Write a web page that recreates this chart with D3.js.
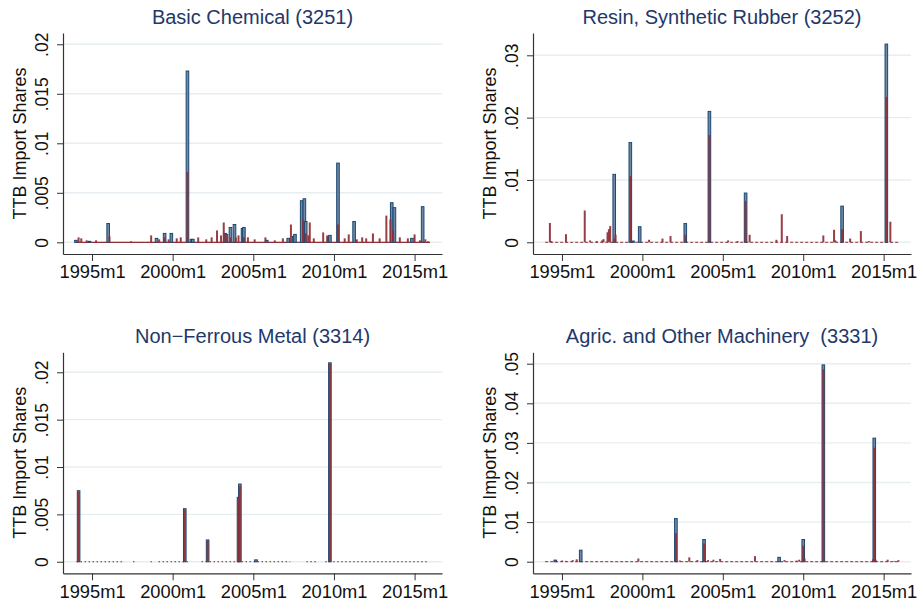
<!DOCTYPE html>
<html lang="en">
<head>
    <meta charset="utf-8">
    <title>TTB Import Shares</title>
    <script type="text/javascript" src="https://cdnjs.cloudflare.com/ajax/libs/d3/7.8.5/d3.min.js"></script>
	<style>
	body { margin: 0; background: #fff; }
	svg text { font-family: "Liberation Sans", Arial, sans-serif; }
	.tick line { stroke: #333; }
	.domain { stroke: #333; stroke-width: 1.2; }
	.ptitle { white-space: pre; }
	</style>
</head>
<body>
    <script type="text/javascript">
      //month labels shown on the x axis
      var tickMonths = ["1995m1", "2000m1", "2005m1", "2010m1", "2015m1"];
      var firstMonth = "1994m1", lastMonth = "2015m12";

      //Basic Chemical (3251)
      var chemBlue = [["1994m1",.0002],["1994m11",.0001],["1996m1",.0019],["1999m1",.0004],["1999m7",.0009],
        ["1999m12",.0009],["2000m12",.0173],["2001m3",.0003],["2001m4",.0003],["2003m4",.0009],["2003m5",.0008],
        ["2003m8",.0015],["2003m11",.0018],["2004m5",.0014],["2004m6",.0015],["2005m11",.0002],["2007m3",.0004],
        ["2007m7",.0006],["2007m8",.0008],["2008m1",.0042],["2008m3",.0044],["2008m4",.0021],["2009m9",.0005],
        ["2009m10",.0007],["2010m4",.0080],["2011m4",.0021],["2013m8",.0040],["2013m10",.0035],["2014m11",.0004],
        ["2015m7",.0036]];
      var chemRed = [["1994m3",.0005],["1994m5",.0004],["1994m9",.0002],["1995m4",.0002],["1996m2",.0006],
        ["1997m6",.0001],["1998m9",.0007],["1999m3",.0003],["1999m7",.0005],["1999m10",.0003],["2000m4",.0004],
        ["2000m7",.0005],["2000m12",.0071],["2001m8",.0005],["2002m2",.0003],["2002m6",.0005],["2002m10",.0012],
        ["2003m1",.0007],["2003m3",.0020],["2003m5",.0007],["2003m8",.0005],["2003m12",.0005],["2004m2",.0007],
        ["2004m6",.0005],["2004m9",.0005],["2005m2",.0003],["2005m10",.0005],["2006m5",.0002],["2006m11",.0004],
        ["2007m5",.0018],["2008m2",.0022],["2008m4",.0009],["2008m6",.0007],["2008m7",.0020],["2008m10",.0004],
        ["2009m5",.0010],["2009m8",.0007],["2010m4",.0018],["2010m9",.0004],["2010m12",.0008],["2011m6",.0003],
        ["2011m10",.0005],["2012m1",.0004],["2012m6",.0009],["2012m11",.0004],["2013m4",.0027],["2013m7",.0023],
        ["2013m9",.0012],["2014m2",.0005],["2014m8",.0004],["2015m1",.0008],["2015m5",.0002],["2015m9",.0003],
        ["2015m11",.0001]];
      var chemTicks = [0, .005, .01, .015, .02];

      //Resin, Synthetic Rubber (3252)
      var resinBlue = [["1998m4",.0109],["1999m4",.0160],["1999m6",.0002],["1999m11",.0025],["2002m9",.0030],
        ["2004m3",.0210],["2006m6",.0079],["2012m6",.0058],["2015m3",.0318]];
      var resinRed = [["1994m4",.0031],["1994m5",.0002],["1995m4",.0013],["1996m6",.0051],["1996m10",.0003],
        ["1997m3",.0002],["1997m7",.0003],["1997m8",.0005],["1997m11",.0016],["1997m12",.0021],["1998m1",.0026],
        ["1998m4",.0006],["1998m5",.0012],["1999m4",.0106],["2000m6",.0004],["2001m4",.0006],["2001m10",.0010],
        ["2002m9",.0012],["2004m3",.0172],["2005m5",.0003],["2005m12",.0002],["2006m6",.0066],["2006m9",.0012],
        ["2008m5",.0004],["2008m9",.0045],["2009m1",.0010],["2011m4",.0011],["2011m12",.0020],["2012m1",.0003],
        ["2012m6",.0021],["2012m12",.0006],["2013m8",.0018],["2014m2",.0002],["2015m3",.0233],["2015m6",.0033]];
      var resinTicks = [0, .01, .02, .03];

      //Non-Ferrous Metal (3314)
      var metalBlue = [["1994m3",.0075],["2000m10",.0056],["2002m3",.0023],["2004m2",.0068],["2004m3",.0082],
        ["2005m3",.0002],["2009m10",.0210]];
      var metalRed = [["1994m3",.0074],["2000m10",.0055],["2002m3",.0022],["2004m2",.0068],["2004m3",.0080],
        ["2005m3",.0001],["2009m10",.0209]];
      var metalCovered = [["1994m2","1996m12"],["1997m8","1997m8"],["1998m9","1998m9"],["1999m3","2000m12"],
        ["2001m11","2007m4"],["2008m5","2008m12"],["2009m7","2015m10"]];
      var metalTicks = [0, .005, .01, .015, .02];

      //Agric. and Other Machinery (3331)
      var machBlue = [["1994m8",.0004],["1996m3",.0029],["2002m2",.0109],["2003m11",.0056],["2008m7",.0011],
        ["2010m1",.0056],["2011m4",.0497],["2014m6",.0312]];
      var machRed = [["1994m8",.0003],["1995m1",.0003],["1995m4",.0002],["1995m9",.0004],["1995m12",.0006],
        ["1999m10",.0008],["2002m2",.0072],["2002m5",.0003],["2002m12",.0011],["2003m6",.0004],["2003m11",.0046],
        ["2004m2",.0004],["2004m6",.0005],["2004m11",.0007],["2007m1",.0014],["2008m11",.0004],["2009m8",.0003],
        ["2009m10",.0005],["2010m1",.0040],["2010m2",.0008],["2011m4",.0486],["2014m5",.0006],["2014m6",.0288],
        ["2014m7",.0005],["2015m4",.0005],["2015m9",.0002],["2015m12",.0004]];
      var machTicks = [0, .01, .02, .03, .04, .05];

      //turn "2000m12" into months since 1994m1
      function monthIndex(s) {
        var p = s.split("m");
        return (+p[0] - 1994) * 12 + (+p[1] - 1);
      }
      function fmtShare(d) { return d === 0 ? "0" : String(d).replace(/^0/, ""); }

      var panels = [
        {title: "Basic Chemical (3251)", blue: chemBlue, red: chemRed, ticks: chemTicks,
          yDomain: [-0.00118, 0.02114], left: 63, right: 442, top: 33, bottom: 254, base: "solid"},
        {title: "Resin, Synthetic Rubber (3252)", blue: resinBlue, red: resinRed, ticks: resinTicks,
          yDomain: [-0.00188, 0.03358], left: 533, right: 911, top: 33, bottom: 254, base: "dash"},
        {title: "Non\u2212Ferrous Metal (3314)", blue: metalBlue, red: metalRed, ticks: metalTicks,
          yDomain: [-0.00122, 0.02211], left: 63, right: 442, top: 352.3, bottom: 573.3, base: "dot"},
        {title: "Agric. and Other Machinery  (3331)", blue: machBlue, red: machRed, ticks: machTicks,
          yDomain: [-0.00293, 0.05288], left: 533, right: 911, top: 352.3, bottom: 573.3, base: "dash"}
      ];

      var svg = d3.select("body").append("svg")
      .attr("width", 918)
      .attr("height", 605);

      panels.forEach(function(p) {
        var x = d3.scaleLinear().domain([-9.6, 272.4]).range([p.left, p.right]);
        var y = d3.scaleLinear().domain(p.yDomain).range([p.bottom, p.top]);
        var g = svg.append("g");

        //grid lines
        g.selectAll(".grid")
        .data(p.ticks)
        .enter().append("line")
        .attr("x1", p.left).attr("x2", p.right)
        .attr("y1", function(d) { return y(d); })
        .attr("y2", function(d) { return y(d); })
        .attr("stroke", "#e7eef1")
        .attr("stroke-width", 1.4);

        //zero line made of the months with no share
        var y0 = y(0);
        if (p.base === "dot") {
          g.selectAll(".cov")
          .data(metalCovered)
          .enter().append("line")
          .attr("x1", function(d) { return x(monthIndex(d[0])) - 0.7; })
          .attr("x2", function(d) { return x(monthIndex(d[1])) + 0.7; })
          .attr("y1", y0).attr("y2", y0)
          .attr("stroke", "#7a2a30")
          .attr("stroke-width", 1)
          .attr("stroke-dasharray", "1.5,2.5");
        } else {
          g.append("line")
          .attr("x1", x(monthIndex(firstMonth)) - 0.7)
          .attr("x2", x(monthIndex(lastMonth)) + 0.7)
          .attr("y1", y0).attr("y2", y0)
          .attr("stroke", "#8f2f36")
          .attr("stroke-width", p.base === "solid" ? 1.3 : 1)
          .attr("stroke-dasharray", p.base === "dash" ? "3,2" : null);
        }

        //blue bars
        g.selectAll(".blue")
        .data(p.blue)
        .enter().append("rect")
        .attr("x", function(d) { return x(monthIndex(d[0])) - 1.3; })
        .attr("width", 2.6)
        .attr("y", function(d) { return y(d[1]); })
        .attr("height", function(d) { return y0 - y(d[1]); })
        .attr("fill", "#7189a4")
        .attr("stroke", "#1a476f")
        .attr("stroke-width", 1);

        //red bars on top
        g.selectAll(".red")
        .data(p.red)
        .enter().append("rect")
        .attr("x", function(d) { return x(monthIndex(d[0])) - 1; })
        .attr("width", 2)
        .attr("y", function(d) { return y(d[1]); })
        .attr("height", function(d) { return y0 - y(d[1]); })
        .attr("fill", "#8f2f36")
        .attr("fill-opacity", 0.92);

        //y axis with vertical labels
        var ya = g.append("g")
        .attr("transform", "translate(" + p.left + ",0)")
        .call(d3.axisLeft(y).tickValues(p.ticks).tickFormat(fmtShare).tickSize(6).tickSizeOuter(0));
        ya.selectAll("text")
        .attr("x", 0).attr("y", 0).attr("dy", 0)
        .attr("text-anchor", "middle")
        .attr("transform", "translate(-14.7,0) rotate(-90)")
        .attr("fill", "#111")
        .style("font-size", "17.5px");

        //x axis
        var xa = g.append("g")
        .attr("transform", "translate(0," + p.bottom + ")")
        .call(d3.axisBottom(x).tickValues(tickMonths.map(monthIndex))
          .tickFormat(function(d, i) { return tickMonths[i]; }).tickSize(7).tickSizeOuter(0));
        xa.selectAll("text")
        .attr("y", 24.3).attr("dy", 0)
        .attr("fill", "#111")
        .style("font-size", "18.3px");

        //titles
        g.append("text")
        .attr("class", "ptitle")
        .attr("x", (p.left + p.right) / 2)
        .attr("y", p.top - 9)
        .attr("text-anchor", "middle")
        .attr("fill", "#22386a")
        .style("font-size", "20px")
        .text(p.title);

        g.append("text")
        .attr("transform", "translate(" + (p.left - 36.7) + "," + ((p.top + p.bottom) / 2) + ") rotate(-90)")
        .attr("text-anchor", "middle")
        .attr("fill", "#111")
        .style("font-size", "18px")
        .text("TTB Import Shares");
      });
    </script>
</body>
</html>
